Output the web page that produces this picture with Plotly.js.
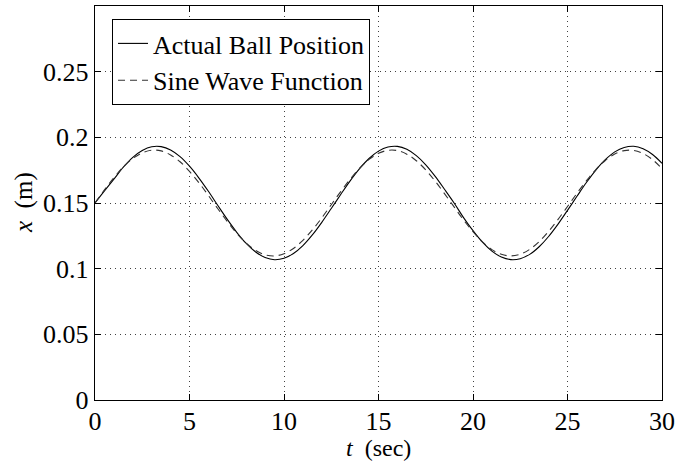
<!DOCTYPE html>
<html>
<head>
<meta charset="utf-8">
<script src="https://cdn.plot.ly/plotly-3.0.1.min.js"></script>
<style>html,body{margin:0;padding:0;background:#fff;}#chart{width:675px;height:462px;}</style>
</head>
<body>
<div id="chart"></div>
<script>
const timeSec = [0,0.5,1,1.5,2,2.5,3,3.5,4,4.5,5,5.5,6,6.5,7,7.5,8,8.5,9,9.5,10,10.5,11,11.5,12,12.5,13,13.5,14,14.5,15,15.5,16,16.5,17,17.5,18,18.5,19,19.5,20,20.5,21,21.5,22,22.5,23,23.5,24,24.5,25,25.5,26,26.5,27,27.5,28,28.5,29,29.5,30];
const actualPos = [0.1500,0.1592,0.1682,0.1773,0.1848,0.1900,0.1928,0.1929,0.1904,0.1853,0.1780,0.1690,0.1589,0.1481,0.1375,0.1277,0.1192,0.1127,0.1085,0.1068,0.1079,0.1116,0.1176,0.1257,0.1353,0.1458,0.1565,0.1669,0.1762,0.1839,0.1895,0.1926,0.1931,0.1909,0.1861,0.1791,0.1703,0.1603,0.1500,0.1389,0.1289,0.1202,0.1134,0.1089,0.1069,0.1076,0.1109,0.1167,0.1245,0.1339,0.1444,0.1551,0.1656,0.1751,0.1830,0.1889,0.1923,0.1932,0.1913,0.1869,0.1802];
const sinePos = [0.1500,0.1600,0.1693,0.1775,0.1839,0.1882,0.1902,0.1897,0.1866,0.1814,0.1741,0.1654,0.1557,0.1456,0.1359,0.1270,0.1195,0.1139,0.1106,0.1097,0.1114,0.1154,0.1216,0.1295,0.1387,0.1487,0.1587,0.1681,0.1765,0.1832,0.1878,0.1901,0.1899,0.1872,0.1822,0.1752,0.1666,0.1570,0.1470,0.1371,0.1281,0.1204,0.1145,0.1109,0.1097,0.1110,0.1147,0.1206,0.1284,0.1375,0.1473,0.1574,0.1669,0.1755,0.1824,0.1873,0.1899,0.1900,0.1877,0.1830,0.1762];
const seriesNames = ['Actual Ball Position','Sine Wave Function'];
const xTicks = [0,5,10,15,20,25,30];
const yTickVals = [0,0.05,0.1,0.15,0.2,0.25];
const yTickText = ['0','0.05','0.1','0.15','0.2','0.25'];

const serif = '"Liberation Serif", "Times New Roman", serif';
const traces = [
  {x: timeSec, y: actualPos, name: seriesNames[0], type: 'scatter', mode: 'lines',
   line: {color: '#000', width: 1.1, shape: 'spline'}},
  {x: timeSec, y: sinePos, name: seriesNames[1], type: 'scatter', mode: 'lines',
   line: {color: '#333', width: 1.1, dash: '7px,5px', shape: 'spline'}}
];
const axisCommon = {
  showline: true, mirror: 'allticks', linecolor: '#000', linewidth: 1.3,
  ticks: 'inside', ticklen: 6, tickwidth: 1, tickcolor: '#000',
  showgrid: true, gridcolor: 'rgba(0,0,0,0.75)', griddash: '1px,4px', gridwidth: 1,
  zeroline: false, tickfont: {family: serif, size: 26, color: '#000'}
};
const layout = {
  width: 675, height: 462,
  margin: {l: 95, r: 13, t: 6, b: 62},
  paper_bgcolor: '#fff', plot_bgcolor: '#fff',
  font: {family: serif},
  showlegend: true,
  legend: {x: 0.03, y: 0.967, xanchor: 'left', yanchor: 'top',
    bgcolor: '#fff', bordercolor: '#000', borderwidth: 1,
    font: {family: serif, size: 26, color: '#000'}, tracegroupgap: 0},
  xaxis: Object.assign({}, axisCommon, {range: [0, 30], tickvals: xTicks, ticklabelstandoff: -3}),
  yaxis: Object.assign({}, axisCommon, {range: [0, 0.3], tickvals: yTickVals, ticktext: yTickText, ticklabelstandoff: 0}),
  annotations: [
    {text: '<i>t</i>  (sec)', xref: 'paper', yref: 'paper', x: 0.5, y: 0, yshift: -48,
     xanchor: 'center', yanchor: 'middle', showarrow: false, font: {family: serif, size: 24, color: '#000'}},
    {text: '<i>x</i>  (m)', xref: 'paper', yref: 'paper', x: 0, y: 0.5, xshift: -71,
     xanchor: 'center', yanchor: 'middle', textangle: -90, showarrow: false, font: {family: serif, size: 25, color: '#000'}}
  ]
};
Plotly.newPlot('chart', traces, layout, {displayModeBar: false, staticPlot: true});
</script>
</body>
</html>
